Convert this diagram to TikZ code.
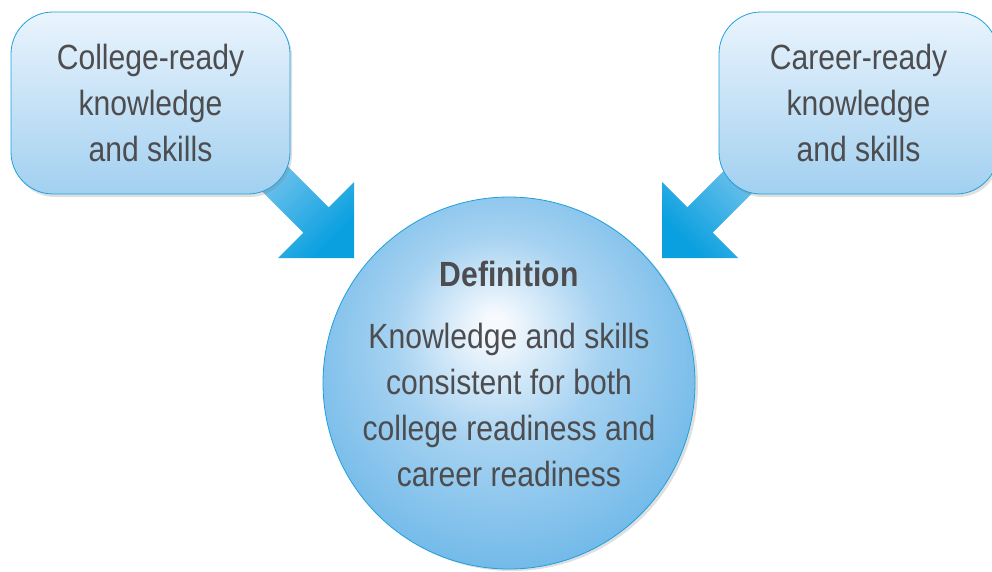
\documentclass[tikz,border=0pt]{standalone}
\usepackage{fontspec}
\setmainfont{Liberation Sans}[FakeStretch=0.86]
\usetikzlibrary{shadows,calc,positioning}

\definecolor{boxtop}{HTML}{EAF4FD}
\definecolor{boxmid}{HTML}{C0DFF6}
\definecolor{boxbottom}{HTML}{A2D0F0}
\definecolor{edgeblue}{HTML}{1EA0DC}
\definecolor{textgray}{HTML}{4D4D4F}
\definecolor{arrowlight}{HTML}{A4D3F2}
\definecolor{arrowdark}{HTML}{0AA0E0}
\definecolor{ballcenter}{HTML}{F6FAFE}
\definecolor{ballmid}{HTML}{A6D2F1}
\definecolor{ballouter}{HTML}{6AB6E8}

\pgfdeclareradialshading{ballshade}{\pgfpoint{-2bp}{8bp}}{%
  color(0bp)=(ballcenter); color(1.5bp)=(ballcenter);
  color(14bp)=(ballmid); color(31bp)=(ballouter); color(50bp)=(ballouter)}

\tikzset{
  readybox/.style={draw=edgeblue, line width=0.8pt, rounded corners=42pt,
    top color=boxtop, middle color=boxmid, bottom color=boxbottom,
    minimum width=279pt, minimum height=182pt, inner sep=0pt,
    align=center, text=textgray, font=\fontsize{35}{46}\selectfont,
    drop shadow={shadow xshift=2pt, shadow yshift=-3pt, opacity=0.25}},
  defball/.style={circle, draw=edgeblue, line width=0.8pt, shade, shading=ballshade,
    minimum size=372pt, inner sep=0pt,
    drop shadow={shadow xshift=3pt, shadow yshift=-2pt, opacity=0.25}},
  deftext/.style={align=center, text=textgray, font=\fontsize{35}{46}\selectfont},
  bigarrow/.style={top color=arrowlight, bottom color=arrowdark}
}

\begin{document}
\begin{tikzpicture}[x=1pt, y=-1pt]
    \useasboundingbox (0,0) rectangle (992,571);
    \clip (0,0) rectangle (992,571);

    % arrow tips
    \coordinate (ltip) at (354,258);
    \coordinate (rtip) at (662,258);

    % wide arrows, drawn first so the boxes cover their tails
    \shade[bigarrow, shading angle=45] (ltip) -- ++(0,-76) -- ++(-25.3,25.3)
        -- ++(-86,-86) -- ++(-25.4,25.4) -- ++(86,86) -- ++(-25.3,25.3) -- cycle;
    \shade[bigarrow, shading angle=-45] (rtip) -- ++(0,-76) -- ++(25.3,25.3)
        -- ++(86,-86) -- ++(25.4,25.4) -- ++(-86,86) -- ++(25.3,25.3) -- cycle;

    % the two boxes
    \node[readybox] (college) at (150.5,103) {College-ready\\ knowledge\\ and skills};
    \node[readybox] (career) at (858.5,103) {Career-ready\\ knowledge\\ and skills};

    % the circle and its text
    \node[defball] (def) at (509,383) {};
    \node[deftext] (deftext) at (509,374) {{\bfseries Definition}\\[16pt]
        Knowledge and skills\\ consistent for both\\ college readiness and\\ career readiness};
\end{tikzpicture}
\end{document}
